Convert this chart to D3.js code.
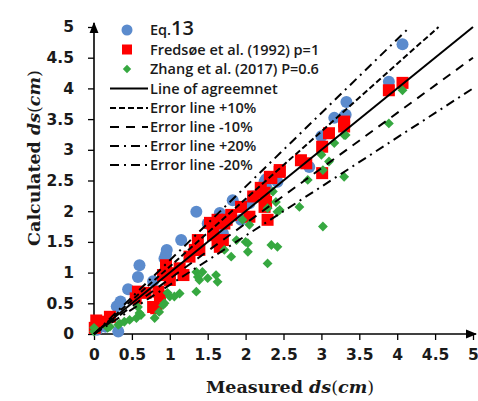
<!DOCTYPE html>
<html>
<head>
<meta charset="utf-8">
<script src="https://cdn.jsdelivr.net/npm/d3@7"></script>
<style>
  body { margin: 0; background: #fff; }
</style>
</head>
<body>
<div id="chart"></div>
<script>
// Measured vs calculated scour depth (cm)
var eq13 = [
  [0.04, 0.07], [0.15, 0.12], [0.32, 0.04], [0.3, 0.45], [0.35, 0.53], [0.45, 0.73],
  [0.58, 0.93], [0.6, 1.12], [0.78, 0.86], [0.93, 1.23], [0.95, 1.3], [0.96, 1.37],
  [1.15, 1.53], [1.35, 1.99], [1.5, 1.8], [1.53, 1.78], [1.66, 1.97], [1.7, 1.64],
  [1.83, 2.18], [1.94, 1.86], [2.05, 2.13], [2.1, 2.24], [2.25, 2.48], [2.27, 2.4],
  [2.27, 2.52], [2.42, 2.48], [2.84, 2.72], [3.0, 3.22], [3.17, 3.52], [3.3, 3.54],
  [3.32, 3.57], [3.33, 3.78], [3.89, 4.11], [4.07, 4.72]
];
var fredsoe = [
  [0.01, 0.1], [0.03, 0.22], [0.15, 0.2], [0.21, 0.28], [0.55, 0.58], [0.58, 0.69],
  [0.68, 0.67], [0.78, 0.44], [0.82, 0.42], [0.87, 0.61], [0.85, 0.69], [0.91, 0.96],
  [0.95, 1.12], [1.0, 0.88], [1.0, 0.99], [1.13, 1.07], [1.18, 0.96], [1.26, 1.26],
  [1.33, 1.37], [1.37, 1.53], [1.39, 1.37], [1.57, 1.61], [1.57, 1.69], [1.63, 1.5],
  [1.66, 1.42], [1.7, 1.53], [1.72, 1.8], [1.75, 1.86], [1.53, 1.81], [1.63, 1.86],
  [1.81, 1.94], [1.94, 2.07], [2.05, 1.91], [2.1, 2.24], [2.2, 2.38], [2.25, 2.07],
  [2.25, 2.3], [2.27, 2.15], [2.29, 1.86], [2.32, 2.56], [2.34, 2.54], [2.45, 2.64],
  [2.45, 2.67], [2.73, 2.83], [2.8, 2.78], [3.01, 2.62], [3.01, 3.05], [3.1, 3.27],
  [3.3, 3.38], [3.3, 3.46], [3.89, 3.97], [4.07, 4.09]
];
var zhang = [
  [0.0, 0.04], [0.0, 0.1], [0.18, 0.1], [0.21, 0.12], [0.32, 0.15], [0.34, 0.17],
  [0.4, 0.2], [0.47, 0.23], [0.56, 0.26], [0.6, 0.34], [0.62, 0.31], [0.58, 0.44],
  [0.8, 0.26], [0.86, 0.36], [0.91, 0.47], [0.93, 0.5], [0.97, 0.67], [1.0, 0.61],
  [1.06, 0.61], [1.13, 0.66], [1.35, 0.69], [1.35, 1.01], [1.37, 0.93], [1.39, 0.88],
  [1.43, 1.01], [1.5, 0.91], [1.61, 0.96], [1.63, 0.85], [1.72, 1.37], [1.81, 1.26],
  [1.88, 1.53], [1.96, 1.86], [2.0, 1.5], [2.03, 1.34], [2.03, 1.48], [2.05, 1.78],
  [2.29, 1.15], [2.29, 2.05], [2.34, 1.45], [2.36, 2.32], [2.4, 2.15], [2.42, 1.42],
  [2.42, 1.99], [2.45, 2.02], [2.71, 2.07], [2.82, 2.51], [3.0, 2.92], [3.02, 1.75],
  [3.02, 2.67], [3.1, 2.81], [3.17, 3.11], [3.3, 2.56], [3.3, 3.24], [3.32, 3.24],
  [3.89, 3.43], [4.07, 3.97]
];
var ticks = [0, 0.5, 1, 1.5, 2, 2.5, 3, 3.5, 4, 4.5, 5];
// error lines: factor on the measured value
var refLines = [
  { name: "Line of agreemnet", k: 1.0, dash: null },
  { name: "Error line +10%", k: 1.1, dash: "6,3" },
  { name: "Error line -10%", k: 0.9, dash: "9,7" },
  { name: "Error line +20%", k: 1.2, dash: "9,5,2,5" },
  { name: "Error line -20%", k: 0.8, dash: "9,5,2,5" }
];

var W = 478, H = 401;
var svg = d3.select("#chart").append("svg")
    .attr("width", W)
    .attr("height", H);

var x = d3.scaleLinear().domain([0, 5]).range([94, 473]);
var y = d3.scaleLinear().domain([0, 5]).range([334, 27]);

var tickFont = "DejaVu Sans, sans-serif";
var blue = "#5b8bcd", red = "#ff0000", green = "#36a840";

// x axis
var xAxis = svg.append("g")
    .attr("transform", "translate(0," + y(0) + ")")
    .call(d3.axisBottom(x).tickValues(ticks).tickSize(6).tickPadding(9).tickFormat(d3.format("")));
xAxis.select(".domain").remove();
xAxis.selectAll("line").attr("stroke", "#000").attr("stroke-width", 1.3);
xAxis.selectAll("text")
    .style("font-family", tickFont)
    .style("font-size", "15.5px")
    .style("font-weight", "bold")
    .attr("fill", "#1a1a1a");

// y axis
var yAxis = svg.append("g")
    .attr("transform", "translate(" + x(0) + ",0)")
    .call(d3.axisLeft(y).tickValues(ticks).tickSize(6).tickPadding(14).tickFormat(d3.format("")));
yAxis.select(".domain").remove();
yAxis.selectAll("line").attr("stroke", "#000").attr("stroke-width", 1.3);
yAxis.selectAll("text")
    .style("font-family", tickFont)
    .style("font-size", "15.5px")
    .style("font-weight", "bold")
    .attr("fill", "#1a1a1a");

// axis lines with arrows
svg.append("defs").append("marker")
    .attr("id", "arrow")
    .attr("viewBox", "0 0 10 10")
    .attr("refX", 9).attr("refY", 5)
    .attr("markerWidth", 7).attr("markerHeight", 7)
    .attr("orient", "auto")
    .append("path")
    .attr("d", "M0,1 L10,5 L0,9 Z")
    .attr("fill", "#000");

svg.append("line")
    .attr("x1", x(0)).attr("y1", y(0))
    .attr("x2", x(5) + 3).attr("y2", y(0))
    .attr("stroke", "#000").attr("stroke-width", 1.6)
    .attr("marker-end", "url(#arrow)");
svg.append("line")
    .attr("x1", x(0)).attr("y1", y(0))
    .attr("x2", x(0)).attr("y2", y(5) - 4)
    .attr("stroke", "#000").attr("stroke-width", 1.6)
    .attr("marker-end", "url(#arrow)");

// data markers
svg.append("g").selectAll("circle")
    .data(eq13)
    .enter().append("circle")
    .attr("cx", function (d) { return x(d[0]); })
    .attr("cy", function (d) { return y(d[1]); })
    .attr("r", 6)
    .attr("fill", blue);

svg.append("g").selectAll("rect")
    .data(fredsoe)
    .enter().append("rect")
    .attr("x", function (d) { return x(d[0]) - 6; })
    .attr("y", function (d) { return y(d[1]) - 6; })
    .attr("width", 12)
    .attr("height", 12)
    .attr("fill", red);

var diamond = d3.symbol().type(d3.symbolDiamond2).size(62);
svg.append("g").selectAll("path")
    .data(zhang)
    .enter().append("path")
    .attr("transform", function (d) { return "translate(" + x(d[0]) + "," + y(d[1]) + ")"; })
    .attr("d", diamond)
    .attr("fill", green);

// agreement and error lines, clipped at the top of the plot
refLines.forEach(function (l) {
    var xEnd = Math.min(5, 5 / l.k);
    svg.append("line")
        .attr("x1", x(0)).attr("y1", y(0))
        .attr("x2", x(xEnd)).attr("y2", y(xEnd * l.k))
        .attr("stroke", "#000")
        .attr("stroke-width", 2)
        .attr("stroke-dasharray", l.dash);
});

// legend
var legendFont = "'Open Sans', sans-serif";
var legendSize = "14.5px";
var legend = svg.append("g");
var rowY = [30, 49.5, 69, 88.5, 108, 127, 146, 165];

legend.append("circle").attr("cx", 127).attr("cy", rowY[0]).attr("r", 5.5).attr("fill", blue);
legend.append("rect").attr("x", 122).attr("y", rowY[1] - 5).attr("width", 10).attr("height", 10).attr("fill", red);
legend.append("path").attr("transform", "translate(127," + rowY[2] + ")")
    .attr("d", d3.symbol().type(d3.symbolDiamond2).size(45)).attr("fill", green);

var eqText = legend.append("text")
    .attr("x", 150).attr("y", rowY[0] + 5)
    .style("font-family", legendFont).style("font-size", legendSize).style("font-weight", 600)
    .attr("fill", "#1a1a1a");
eqText.append("tspan").text("Eq.");
eqText.append("tspan").style("font-size", "20px").text("13");

var labels = ["Fredsøe et al. (1992) p=1", "Zhang et al. (2017) P=0.6"];
labels.forEach(function (t, i) {
    legend.append("text")
        .attr("x", 150).attr("y", rowY[i + 1] + 5)
        .style("font-family", legendFont).style("font-size", legendSize).style("font-weight", 600)
        .attr("fill", "#1a1a1a")
        .text(t);
});

refLines.forEach(function (l, i) {
    var yy = rowY[i + 3];
    legend.append("line")
        .attr("x1", 110).attr("x2", 148)
        .attr("y1", yy).attr("y2", yy)
        .attr("stroke", "#000").attr("stroke-width", 2)
        .attr("stroke-dasharray", l.dash);
    legend.append("text")
        .attr("x", 150).attr("y", yy + 5)
        .style("font-family", legendFont).style("font-size", legendSize).style("font-weight", 600)
        .attr("fill", "#1a1a1a")
        .text(l.name);
});

// axis titles
var titleFont = "'DejaVu Serif', serif";
var xt = svg.append("text")
    .attr("x", 290).attr("y", 393)
    .attr("text-anchor", "middle")
    .style("font-family", titleFont).style("font-size", "17.5px").style("font-weight", "bold")
    .attr("fill", "#1a1a1a");
xt.append("tspan").text("Measured ");
xt.append("tspan").style("font-style", "italic").text("ds");
xt.append("tspan").style("font-weight", "normal").text("(");
xt.append("tspan").style("font-style", "italic").text("cm");
xt.append("tspan").style("font-weight", "normal").text(")");

var yt = svg.append("text")
    .attr("transform", "translate(40,158) rotate(-90)")
    .attr("text-anchor", "middle")
    .style("font-family", titleFont).style("font-size", "17.5px").style("font-weight", "bold")
    .attr("fill", "#1a1a1a");
yt.append("tspan").text("Calculated  ");
yt.append("tspan").style("font-style", "italic").text("ds");
yt.append("tspan").style("font-weight", "normal").text("(");
yt.append("tspan").style("font-style", "italic").text("cm");
yt.append("tspan").style("font-weight", "normal").text(")");
</script>
</body>
</html>
